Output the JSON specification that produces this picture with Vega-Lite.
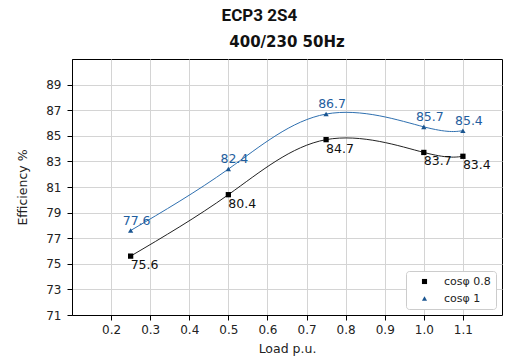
{
  "$schema": "https://vega.github.io/schema/vega-lite/v6.json",
  "padding": {"left": 16, "top": 6, "right": 5, "bottom": 5},
  "background": "white",
  "title": {
    "text": "ECP3 2S4",
    "anchor": "middle",
    "font": "Roboto",
    "fontSize": 17,
    "fontWeight": "bold",
    "color": "#111111",
    "offset": 10
  },
  "config": {
    "view": {"stroke": "#000000", "strokeWidth": 1},
    "axis": {
      "domainColor": "#000000",
      "tickColor": "#000000",
      "tickSize": 5,
      "labelFont": "DejaVu Sans",
      "labelFontSize": 12,
      "labelColor": "#222222",
      "titleFont": "DejaVu Sans",
      "titleFontSize": 12.5,
      "titleFontWeight": "normal",
      "titleColor": "#222222",
      "gridColor": "#d4d4d4",
      "gridWidth": 1
    },
    "legend": {
      "fillColor": "white",
      "strokeColor": "#cccccc",
      "cornerRadius": 3,
      "padding": 5,
      "labelFont": "DejaVu Sans",
      "labelFontSize": 11,
      "labelColor": "#222222",
      "rowPadding": 5,
      "symbolSize": 26,
      "symbolOffset": 8,
      "labelOffset": 14
    }
  },
  "resolve": {"legend": {"color": "independent", "shape": "independent"}},
  "vconcat": [
    {
      "width": 430,
      "height": 256,
      "title": {
        "text": "400/230 50Hz",
        "anchor": "middle",
        "frame": "group",
        "font": "DejaVu Sans",
        "fontSize": 15,
        "fontWeight": "bold",
        "color": "#111111",
        "offset": 9
      },
      "data": {
        "values": [
          {"series": "cosφ 0.8", "load": 0.25, "eff": 75.6},
          {"series": "cosφ 0.8", "load": 0.5, "eff": 80.4},
          {"series": "cosφ 0.8", "load": 0.75, "eff": 84.7},
          {"series": "cosφ 0.8", "load": 1.0, "eff": 83.7},
          {"series": "cosφ 0.8", "load": 1.1, "eff": 83.4},
          {"series": "cosφ 1", "load": 0.25, "eff": 77.6},
          {"series": "cosφ 1", "load": 0.5, "eff": 82.4},
          {"series": "cosφ 1", "load": 0.75, "eff": 86.7},
          {"series": "cosφ 1", "load": 1.0, "eff": 85.7},
          {"series": "cosφ 1", "load": 1.1, "eff": 85.4}
        ]
      },
      "encoding": {
        "x": {
          "field": "load",
          "type": "quantitative",
          "title": "Load p.u.",
          "scale": {"domain": [0.1, 1.2], "nice": false, "zero": false},
          "axis": {
            "values": [0.2, 0.3, 0.4, 0.5, 0.6, 0.7, 0.8, 0.9, 1.0, 1.1],
            "format": ".1f",
            "labelPadding": 4,
            "titlePadding": 7
          }
        },
        "y": {
          "field": "eff",
          "type": "quantitative",
          "title": "Efficiency %",
          "scale": {"domain": [71, 91], "nice": false, "zero": false},
          "axis": {
            "values": [71, 73, 75, 77, 79, 81, 83, 85, 87, 89],
            "labelPadding": 6,
            "titlePadding": 16
          }
        }
      },
      "layer": [
        {
          "mark": {"type": "line", "interpolate": "natural", "strokeWidth": 1},
          "encoding": {
            "stroke": {
              "field": "series",
              "type": "nominal",
              "scale": {"domain": ["cosφ 0.8", "cosφ 1"], "range": ["#222222", "#2f70b0"]},
              "legend": null
            }
          }
        },
        {
          "mark": {"type": "point", "filled": true, "opacity": 1, "size": 28},
          "encoding": {
            "color": {
              "field": "series",
              "type": "nominal",
              "scale": {"domain": ["cosφ 0.8", "cosφ 1"], "range": ["#000000", "#1a5590"]},
              "legend": {"orient": "bottom-right", "offset": 6, "title": null}
            },
            "shape": {
              "field": "series",
              "type": "nominal",
              "scale": {"domain": ["cosφ 0.8", "cosφ 1"], "range": ["square", "triangle-up"]},
              "legend": {"orient": "bottom-right", "offset": 6, "title": null}
            }
          }
        },
        {
          "transform": [{"filter": "datum.series === 'cosφ 0.8'"}],
          "mark": {
            "type": "text",
            "align": "left",
            "baseline": "top",
            "dx": 0,
            "dy": 3,
            "font": "DejaVu Sans",
            "fontSize": 12.5,
            "color": "#111111"
          },
          "encoding": {"text": {"field": "eff", "type": "quantitative", "format": ".1f"}}
        },
        {
          "transform": [{"filter": "datum.series === 'cosφ 1'"}],
          "mark": {
            "type": "text",
            "align": "center",
            "baseline": "alphabetic",
            "dx": 6,
            "dy": -6,
            "font": "DejaVu Sans",
            "fontSize": 12.5,
            "color": "#1f5e9e"
          },
          "encoding": {"text": {"field": "eff", "type": "quantitative", "format": ".1f"}}
        }
      ]
    }
  ]
}
